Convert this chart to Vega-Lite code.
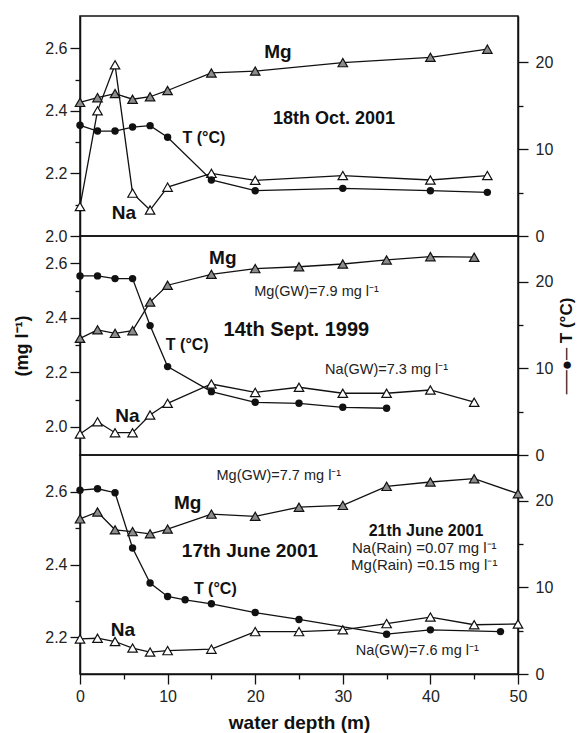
{
  "$schema": "https://vega.github.io/schema/vega-lite/v6.json",
  "padding": {"left": 13, "top": 15, "right": 0, "bottom": 0},
  "background": "white",
  "spacing": 0,
  "bounds": "flush",
  "config": {
    "font": "Liberation Sans",
    "view": {"stroke": "#111", "strokeWidth": 1.5},
    "axis": {
      "grid": false,
      "domainColor": "#111",
      "domainWidth": 1.5,
      "tickColor": "#111",
      "tickWidth": 1.3,
      "tickSize": 10,
      "labelFont": "Liberation Sans",
      "labelFontSize": 16,
      "labelColor": "#222",
      "labelPadding": 3,
      "titleFont": "Liberation Sans",
      "titleFontWeight": "bold",
      "titleColor": "#111"
    }
  },
  "datasets": {
    "oct2001": [
      {"depth": 0, "series": "Mg", "value": 2.427}, {"depth": 2, "series": "Mg", "value": 2.442}, {"depth": 4, "series": "Mg", "value": 2.455}, {"depth": 6, "series": "Mg", "value": 2.437}, {"depth": 8, "series": "Mg", "value": 2.445}, {"depth": 10, "series": "Mg", "value": 2.465}, {"depth": 15, "series": "Mg", "value": 2.521}, {"depth": 20, "series": "Mg", "value": 2.527}, {"depth": 30, "series": "Mg", "value": 2.554}, {"depth": 40, "series": "Mg", "value": 2.571}, {"depth": 46.5, "series": "Mg", "value": 2.597},
      {"depth": 0, "series": "Na", "value": 2.094}, {"depth": 2, "series": "Na", "value": 2.4}, {"depth": 4, "series": "Na", "value": 2.547}, {"depth": 6, "series": "Na", "value": 2.137}, {"depth": 8, "series": "Na", "value": 2.083}, {"depth": 10, "series": "Na", "value": 2.156}, {"depth": 15, "series": "Na", "value": 2.2}, {"depth": 20, "series": "Na", "value": 2.178}, {"depth": 30, "series": "Na", "value": 2.193}, {"depth": 40, "series": "Na", "value": 2.179}, {"depth": 46.5, "series": "Na", "value": 2.193},
      {"depth": 0, "series": "T", "value": 12.73}, {"depth": 2, "series": "T", "value": 12.07}, {"depth": 4, "series": "T", "value": 12.07}, {"depth": 6, "series": "T", "value": 12.53}, {"depth": 8, "series": "T", "value": 12.69}, {"depth": 10, "series": "T", "value": 11.35}, {"depth": 15, "series": "T", "value": 6.44}, {"depth": 20, "series": "T", "value": 5.21}, {"depth": 30, "series": "T", "value": 5.48}, {"depth": 40, "series": "T", "value": 5.21}, {"depth": 46.5, "series": "T", "value": 5.02}
    ],
    "sep1999": [
      {"depth": 0, "series": "Mg", "value": 2.325}, {"depth": 2, "series": "Mg", "value": 2.356}, {"depth": 4, "series": "Mg", "value": 2.343}, {"depth": 6, "series": "Mg", "value": 2.353}, {"depth": 8, "series": "Mg", "value": 2.458}, {"depth": 10, "series": "Mg", "value": 2.52}, {"depth": 15, "series": "Mg", "value": 2.56}, {"depth": 20, "series": "Mg", "value": 2.581}, {"depth": 25, "series": "Mg", "value": 2.588}, {"depth": 30, "series": "Mg", "value": 2.598}, {"depth": 35, "series": "Mg", "value": 2.613}, {"depth": 40, "series": "Mg", "value": 2.625}, {"depth": 45, "series": "Mg", "value": 2.623},
      {"depth": 0, "series": "Na", "value": 1.973}, {"depth": 2, "series": "Na", "value": 2.018}, {"depth": 4, "series": "Na", "value": 1.978}, {"depth": 6, "series": "Na", "value": 1.978}, {"depth": 8, "series": "Na", "value": 2.043}, {"depth": 10, "series": "Na", "value": 2.086}, {"depth": 15, "series": "Na", "value": 2.157}, {"depth": 20, "series": "Na", "value": 2.126}, {"depth": 25, "series": "Na", "value": 2.145}, {"depth": 30, "series": "Na", "value": 2.123}, {"depth": 35, "series": "Na", "value": 2.123}, {"depth": 40, "series": "Na", "value": 2.135}, {"depth": 45, "series": "Na", "value": 2.09},
      {"depth": 0, "series": "T", "value": 20.69}, {"depth": 2, "series": "T", "value": 20.69}, {"depth": 4, "series": "T", "value": 20.38}, {"depth": 6, "series": "T", "value": 20.38}, {"depth": 8, "series": "T", "value": 14.95}, {"depth": 10, "series": "T", "value": 10.21}, {"depth": 15, "series": "T", "value": 7.32}, {"depth": 20, "series": "T", "value": 6.09}, {"depth": 25, "series": "T", "value": 5.97}, {"depth": 30, "series": "T", "value": 5.51}, {"depth": 35, "series": "T", "value": 5.4}
    ],
    "jun2001": [
      {"depth": 0, "series": "Mg", "value": 2.525}, {"depth": 2, "series": "Mg", "value": 2.544}, {"depth": 4, "series": "Mg", "value": 2.495}, {"depth": 6, "series": "Mg", "value": 2.49}, {"depth": 8, "series": "Mg", "value": 2.484}, {"depth": 10, "series": "Mg", "value": 2.497}, {"depth": 15, "series": "Mg", "value": 2.538}, {"depth": 20, "series": "Mg", "value": 2.532}, {"depth": 25, "series": "Mg", "value": 2.557}, {"depth": 30, "series": "Mg", "value": 2.562}, {"depth": 35, "series": "Mg", "value": 2.614}, {"depth": 40, "series": "Mg", "value": 2.626}, {"depth": 45, "series": "Mg", "value": 2.635}, {"depth": 50, "series": "Mg", "value": 2.594},
      {"depth": 0, "series": "Na", "value": 2.196}, {"depth": 2, "series": "Na", "value": 2.198}, {"depth": 4, "series": "Na", "value": 2.189}, {"depth": 6, "series": "Na", "value": 2.171}, {"depth": 8, "series": "Na", "value": 2.16}, {"depth": 10, "series": "Na", "value": 2.164}, {"depth": 15, "series": "Na", "value": 2.168}, {"depth": 20, "series": "Na", "value": 2.216}, {"depth": 25, "series": "Na", "value": 2.216}, {"depth": 30, "series": "Na", "value": 2.221}, {"depth": 35, "series": "Na", "value": 2.238}, {"depth": 40, "series": "Na", "value": 2.256}, {"depth": 45, "series": "Na", "value": 2.235}, {"depth": 50, "series": "Na", "value": 2.237},
      {"depth": 0, "series": "T", "value": 21.24}, {"depth": 2, "series": "T", "value": 21.4}, {"depth": 4, "series": "T", "value": 20.94}, {"depth": 6, "series": "T", "value": 14.56}, {"depth": 8, "series": "T", "value": 10.51}, {"depth": 10, "series": "T", "value": 8.96}, {"depth": 12, "series": "T", "value": 8.57}, {"depth": 15, "series": "T", "value": 8.11}, {"depth": 20, "series": "T", "value": 7.1}, {"depth": 25, "series": "T", "value": 6.3}, {"depth": 35, "series": "T", "value": 4.6}, {"depth": 40, "series": "T", "value": 5.1}, {"depth": 48, "series": "T", "value": 4.9}
    ]
  },
  "vconcat": [
    {
      "width": 438, "height": 220,
      "data": {"name": "oct2001"},
      "layer": [
        {
          "layer": [
            {
              "layer": [
                {"transform": [{"filter": "datum.series == 'Mg'"}], "mark": {"type": "line", "color": "#111", "strokeWidth": 1.3},
                 "encoding": {
                   "x": {"field": "depth", "type": "quantitative", "scale": {"domain": [0, 50], "nice": false}, "axis": null},
                   "y": {"field": "value", "type": "quantitative", "scale": {"domain": [2.0, 2.703], "nice": false, "zero": false},
                         "axis": {"title": null, "values": [2.0, 2.2, 2.4, 2.6], "format": ".1f"}}}},
                {"transform": [{"filter": "datum.series == 'Na'"}], "mark": {"type": "line", "color": "#111", "strokeWidth": 1.3},
                 "encoding": {"x": {"field": "depth", "type": "quantitative"}, "y": {"field": "value", "type": "quantitative"}}},
                {"transform": [{"filter": "datum.series == 'Mg'"}], "mark": {"type": "point", "shape": "triangle-up", "filled": true, "fill": "#8c8c8c", "stroke": "#111", "strokeWidth": 1.2, "size": 90, "opacity": 1},
                 "encoding": {"x": {"field": "depth", "type": "quantitative"}, "y": {"field": "value", "type": "quantitative"}}},
                {"transform": [{"filter": "datum.series == 'Na'"}], "mark": {"type": "point", "shape": "triangle-up", "filled": true, "fill": "white", "stroke": "#111", "strokeWidth": 1.2, "size": 90, "opacity": 1},
                 "encoding": {"x": {"field": "depth", "type": "quantitative"}, "y": {"field": "value", "type": "quantitative"}}},
                {"data": {"values": [{}]}, "mark": {"type": "text", "text": "Mg", "fontSize": 19, "fontWeight": "bold", "color": "#111"},
                 "encoding": {"x": {"datum": 22.6, "type": "quantitative"}, "y": {"datum": 2.588, "type": "quantitative"}}},
                {"data": {"values": [{}]}, "mark": {"type": "text", "text": "Na", "fontSize": 19, "fontWeight": "bold", "color": "#111"},
                 "encoding": {"x": {"datum": 5.0, "type": "quantitative"}, "y": {"datum": 2.074, "type": "quantitative"}}},
                {"data": {"values": [{}]}, "mark": {"type": "text", "text": "T (°C)", "fontSize": 16, "fontWeight": "bold", "align": "left", "color": "#111"},
                 "encoding": {"x": {"datum": 11.7, "type": "quantitative"}, "y": {"datum": 2.312, "type": "quantitative"}}},
                {"data": {"values": [{}]}, "mark": {"type": "text", "text": "18th Oct. 2001", "fontSize": 18, "fontWeight": "bold", "color": "#111"},
                 "encoding": {"x": {"datum": 29.0, "type": "quantitative"}, "y": {"datum": 2.374, "type": "quantitative"}}}
              ]
            },
            {"data": {"values": [{}]}, "mark": {"type": "text", "text": ""},
             "encoding": {"x": {"datum": 0, "type": "quantitative", "axis": null},
                          "y": {"datum": 2.5, "type": "quantitative", "axis": {"orient": "left", "title": null, "values": [2.1, 2.3, 2.5], "labels": false, "domain": false, "tickSize": 5}}}}
          ],
          "resolve": {"axis": {"y": "independent", "x": "independent"}}
        },
        {
          "layer": [
            {
              "transform": [{"filter": "datum.series == 'T'"}],
              "encoding": {
                "x": {"field": "depth", "type": "quantitative", "axis": null},
                "y": {"field": "value", "type": "quantitative", "scale": {"domain": [0, 25.3], "nice": false},
                      "axis": {"orient": "right", "title": null, "values": [0, 10, 20], "labelPadding": 7}}
              },
              "layer": [
                {"mark": {"type": "line", "color": "#111", "strokeWidth": 1.3}},
                {"mark": {"type": "point", "shape": "circle", "filled": true, "color": "#111", "size": 55, "opacity": 1}}
              ]
            },
            {"data": {"values": [{}]}, "mark": {"type": "text", "text": ""},
             "encoding": {"x": {"datum": 0, "type": "quantitative", "axis": null},
                          "y": {"datum": 5, "type": "quantitative", "axis": {"orient": "right", "title": null, "values": [5, 15], "labels": false, "domain": false, "tickSize": 5}}}}
          ],
          "resolve": {"axis": {"y": "independent"}}
        }
      ],
      "resolve": {"scale": {"y": "independent"}, "axis": {"x": "independent"}}
    },
    {
      "width": 438, "height": 219,
      "data": {"name": "sep1999"},
      "layer": [
        {
          "layer": [
            {
              "layer": [
                {"transform": [{"filter": "datum.series == 'Mg'"}], "mark": {"type": "line", "color": "#111", "strokeWidth": 1.3},
                 "encoding": {
                   "x": {"field": "depth", "type": "quantitative", "scale": {"domain": [0, 50], "nice": false}, "axis": null},
                   "y": {"field": "value", "type": "quantitative", "scale": {"domain": [1.896, 2.701], "nice": false, "zero": false},
                         "axis": {"title": "(mg l⁻¹)", "titleFontSize": 18, "titlePadding": 13, "values": [2.0, 2.2, 2.4, 2.6], "format": ".1f"}}}},
                {"transform": [{"filter": "datum.series == 'Na'"}], "mark": {"type": "line", "color": "#111", "strokeWidth": 1.3},
                 "encoding": {"x": {"field": "depth", "type": "quantitative"}, "y": {"field": "value", "type": "quantitative"}}},
                {"transform": [{"filter": "datum.series == 'Mg'"}], "mark": {"type": "point", "shape": "triangle-up", "filled": true, "fill": "#8c8c8c", "stroke": "#111", "strokeWidth": 1.2, "size": 90, "opacity": 1},
                 "encoding": {"x": {"field": "depth", "type": "quantitative"}, "y": {"field": "value", "type": "quantitative"}}},
                {"transform": [{"filter": "datum.series == 'Na'"}], "mark": {"type": "point", "shape": "triangle-up", "filled": true, "fill": "white", "stroke": "#111", "strokeWidth": 1.2, "size": 90, "opacity": 1},
                 "encoding": {"x": {"field": "depth", "type": "quantitative"}, "y": {"field": "value", "type": "quantitative"}}},
                {"data": {"values": [{}]}, "mark": {"type": "text", "text": "Mg", "fontSize": 19, "fontWeight": "bold", "color": "#111"},
                 "encoding": {"x": {"datum": 16.3, "type": "quantitative"}, "y": {"datum": 2.619, "type": "quantitative"}}},
                {"data": {"values": [{}]}, "mark": {"type": "text", "text": "Na", "fontSize": 19, "fontWeight": "bold", "color": "#111"},
                 "encoding": {"x": {"datum": 5.4, "type": "quantitative"}, "y": {"datum": 2.039, "type": "quantitative"}}},
                {"data": {"values": [{}]}, "mark": {"type": "text", "text": "T (°C)", "fontSize": 16, "fontWeight": "bold", "align": "left", "color": "#111"},
                 "encoding": {"x": {"datum": 9.8, "type": "quantitative"}, "y": {"datum": 2.3, "type": "quantitative"}}},
                {"data": {"values": [{}]}, "mark": {"type": "text", "text": "14th Sept. 1999", "fontSize": 20, "fontWeight": "bold", "color": "#111"},
                 "encoding": {"x": {"datum": 24.7, "type": "quantitative"}, "y": {"datum": 2.355, "type": "quantitative"}}},
                {"data": {"values": [{}]}, "mark": {"type": "text", "text": "Mg(GW)=7.9 mg l⁻¹", "fontSize": 14.5, "color": "#222"},
                 "encoding": {"x": {"datum": 27.0, "type": "quantitative"}, "y": {"datum": 2.496, "type": "quantitative"}}},
                {"data": {"values": [{}]}, "mark": {"type": "text", "text": "Na(GW)=7.3 mg l⁻¹", "fontSize": 14.5, "color": "#222"},
                 "encoding": {"x": {"datum": 35.0, "type": "quantitative"}, "y": {"datum": 2.208, "type": "quantitative"}}}
              ]
            },
            {"data": {"values": [{}]}, "mark": {"type": "text", "text": ""},
             "encoding": {"x": {"datum": 0, "type": "quantitative", "axis": null},
                          "y": {"datum": 2.5, "type": "quantitative", "axis": {"orient": "left", "title": null, "values": [2.1, 2.3, 2.5], "labels": false, "domain": false, "tickSize": 5}}}}
          ],
          "resolve": {"axis": {"y": "independent", "x": "independent"}}
        },
        {
          "layer": [
            {
              "transform": [{"filter": "datum.series == 'T'"}],
              "encoding": {
                "x": {"field": "depth", "type": "quantitative", "axis": null},
                "y": {"field": "value", "type": "quantitative", "scale": {"domain": [0, 25.3], "nice": false},
                      "axis": {"orient": "right", "title": "──●─  T (°C)", "titleFontSize": 17, "titleAngle": 270, "titleBaseline": "top", "titlePadding": 6, "values": [0, 10, 20], "labelPadding": 7}}
              },
              "layer": [
                {"mark": {"type": "line", "color": "#111", "strokeWidth": 1.3}},
                {"mark": {"type": "point", "shape": "circle", "filled": true, "color": "#111", "size": 55, "opacity": 1}}
              ]
            },
            {"data": {"values": [{}]}, "mark": {"type": "text", "text": ""},
             "encoding": {"x": {"datum": 0, "type": "quantitative", "axis": null},
                          "y": {"datum": 5, "type": "quantitative", "axis": {"orient": "right", "title": null, "values": [5, 15], "labels": false, "domain": false, "tickSize": 5}}}}
          ],
          "resolve": {"axis": {"y": "independent"}}
        }
      ],
      "resolve": {"scale": {"y": "independent"}, "axis": {"x": "independent"}}
    },
    {
      "width": 438, "height": 219,
      "data": {"name": "jun2001"},
      "layer": [
        {
          "layer": [
            {
              "layer": [
                {"transform": [{"filter": "datum.series == 'Mg'"}], "mark": {"type": "line", "color": "#111", "strokeWidth": 1.3},
                 "encoding": {
                   "x": {"field": "depth", "type": "quantitative", "scale": {"domain": [0, 50], "nice": false},
                         "axis": {"title": "water depth (m)", "titleFontSize": 19, "values": [0, 10, 20, 30, 40, 50], "labelFlush": false, "labelPadding": 4, "titlePadding": 9}},
                   "y": {"field": "value", "type": "quantitative", "scale": {"domain": [2.1, 2.7], "nice": false, "zero": false},
                         "axis": {"title": null, "values": [2.2, 2.4, 2.6], "format": ".1f"}}}},
                {"transform": [{"filter": "datum.series == 'Na'"}], "mark": {"type": "line", "color": "#111", "strokeWidth": 1.3},
                 "encoding": {"x": {"field": "depth", "type": "quantitative"}, "y": {"field": "value", "type": "quantitative"}}},
                {"transform": [{"filter": "datum.series == 'Mg'"}], "mark": {"type": "point", "shape": "triangle-up", "filled": true, "fill": "#8c8c8c", "stroke": "#111", "strokeWidth": 1.2, "size": 90, "opacity": 1},
                 "encoding": {"x": {"field": "depth", "type": "quantitative"}, "y": {"field": "value", "type": "quantitative"}}},
                {"transform": [{"filter": "datum.series == 'Na'"}], "mark": {"type": "point", "shape": "triangle-up", "filled": true, "fill": "white", "stroke": "#111", "strokeWidth": 1.2, "size": 90, "opacity": 1},
                 "encoding": {"x": {"field": "depth", "type": "quantitative"}, "y": {"field": "value", "type": "quantitative"}}},
                {"data": {"values": [{}]}, "mark": {"type": "text", "text": "Mg", "fontSize": 19, "fontWeight": "bold", "color": "#111"},
                 "encoding": {"x": {"datum": 12.3, "type": "quantitative"}, "y": {"datum": 2.568, "type": "quantitative"}}},
                {"data": {"values": [{}]}, "mark": {"type": "text", "text": "Na", "fontSize": 19, "fontWeight": "bold", "color": "#111"},
                 "encoding": {"x": {"datum": 4.9, "type": "quantitative"}, "y": {"datum": 2.221, "type": "quantitative"}}},
                {"data": {"values": [{}]}, "mark": {"type": "text", "text": "T (°C)", "fontSize": 16, "fontWeight": "bold", "align": "left", "color": "#111"},
                 "encoding": {"x": {"datum": 13.0, "type": "quantitative"}, "y": {"datum": 2.333, "type": "quantitative"}}},
                {"data": {"values": [{}]}, "mark": {"type": "text", "text": "17th June 2001", "fontSize": 19, "fontWeight": "bold", "color": "#111"},
                 "encoding": {"x": {"datum": 19.4, "type": "quantitative"}, "y": {"datum": 2.438, "type": "quantitative"}}},
                {"data": {"values": [{}]}, "mark": {"type": "text", "text": "Mg(GW)=7.7 mg l⁻¹", "fontSize": 14.5, "color": "#222"},
                 "encoding": {"x": {"datum": 22.7, "type": "quantitative"}, "y": {"datum": 2.643, "type": "quantitative"}}},
                {"data": {"values": [{}]}, "mark": {"type": "text", "text": "21th June 2001", "fontSize": 16, "fontWeight": "bold", "color": "#111"},
                 "encoding": {"x": {"datum": 39.5, "type": "quantitative"}, "y": {"datum": 2.492, "type": "quantitative"}}},
                {"data": {"values": [{}]}, "mark": {"type": "text", "text": "Na(Rain) =0.07 mg l⁻¹", "fontSize": 15, "color": "#222"},
                 "encoding": {"x": {"datum": 39.3, "type": "quantitative"}, "y": {"datum": 2.445, "type": "quantitative"}}},
                {"data": {"values": [{}]}, "mark": {"type": "text", "text": "Mg(Rain) =0.15 mg l⁻¹", "fontSize": 15, "color": "#222"},
                 "encoding": {"x": {"datum": 39.3, "type": "quantitative"}, "y": {"datum": 2.399, "type": "quantitative"}}},
                {"data": {"values": [{}]}, "mark": {"type": "text", "text": "Na(GW)=7.6 mg l⁻¹", "fontSize": 14.5, "color": "#222"},
                 "encoding": {"x": {"datum": 38.5, "type": "quantitative"}, "y": {"datum": 2.162, "type": "quantitative"}}}
              ]
            },
            {"data": {"values": [{}]}, "mark": {"type": "text", "text": ""},
             "encoding": {"x": {"datum": 0, "type": "quantitative", "axis": {"orient": "bottom", "title": null, "values": [5, 15, 25, 35, 45], "labels": false, "domain": false, "tickSize": 5}},
                          "y": {"datum": 2.5, "type": "quantitative", "axis": {"orient": "left", "title": null, "values": [2.3, 2.5], "labels": false, "domain": false, "tickSize": 5}}}}
          ],
          "resolve": {"axis": {"y": "independent", "x": "independent"}}
        },
        {
          "layer": [
            {
              "transform": [{"filter": "datum.series == 'T'"}],
              "encoding": {
                "x": {"field": "depth", "type": "quantitative", "axis": null},
                "y": {"field": "value", "type": "quantitative", "scale": {"domain": [0, 25.3], "nice": false},
                      "axis": {"orient": "right", "title": null, "values": [0, 10, 20], "labelPadding": 7}}
              },
              "layer": [
                {"mark": {"type": "line", "color": "#111", "strokeWidth": 1.3}},
                {"mark": {"type": "point", "shape": "circle", "filled": true, "color": "#111", "size": 55, "opacity": 1}}
              ]
            },
            {"data": {"values": [{}]}, "mark": {"type": "text", "text": ""},
             "encoding": {"x": {"datum": 0, "type": "quantitative", "axis": null},
                          "y": {"datum": 5, "type": "quantitative", "axis": {"orient": "right", "title": null, "values": [5, 15], "labels": false, "domain": false, "tickSize": 5}}}}
          ],
          "resolve": {"axis": {"y": "independent"}}
        }
      ],
      "resolve": {"scale": {"y": "independent"}, "axis": {"x": "independent"}}
    }
  ]
}
